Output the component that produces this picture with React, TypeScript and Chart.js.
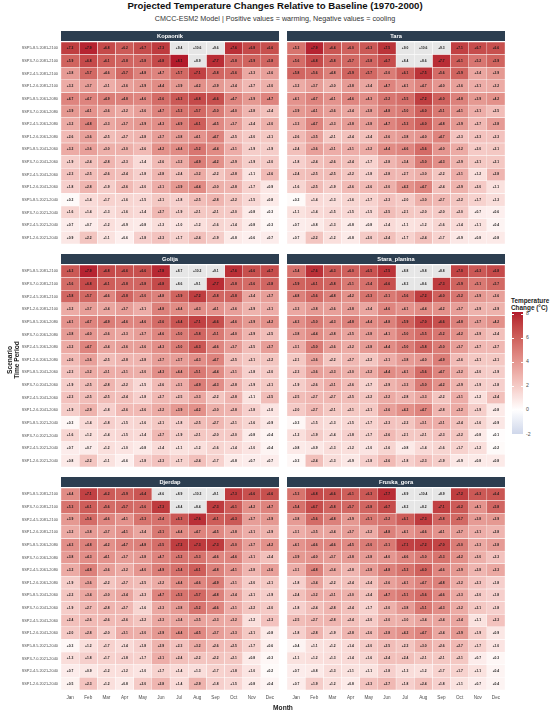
import React, { useEffect, useRef } from "react";
import { Chart, registerables } from "chart.js";

Chart.register(...registerables);

const FONT = "'Liberation Sans', Arial, Helvetica, sans-serif";

const months = ["Jan", "Feb", "Mar", "Apr", "May", "Jun", "Jul", "Aug", "Sep", "Oct", "Nov", "Dec"];

const rowLabels = [
  "SSP5-8.5.2081-2100",
  "SSP3-7.0.2081-2100",
  "SSP2-4.5.2081-2100",
  "SSP1-2.6.2081-2100",
  "SSP5-8.5.2061-2080",
  "SSP3-7.0.2061-2080",
  "SSP2-4.5.2061-2080",
  "SSP1-2.6.2061-2080",
  "SSP5-8.5.2041-2060",
  "SSP3-7.0.2041-2060",
  "SSP2-4.5.2041-2060",
  "SSP1-2.6.2041-2060",
  "SSP5-8.5.2021-2040",
  "SSP3-7.0.2021-2040",
  "SSP2-4.5.2021-2040",
  "SSP1-2.6.2021-2040",
];

const kopaonik = [
  [7.2, 7.9, 6.8, 6.2, 6.7, 7.3, 9.4, 10.6, 9.6, 7.6, 6.8, 6.6],
  [5.9, 6.8, 6.1, 5.8, 5.8, 6.8, 8.1, 8.9, 7.7, 5.8, 5.9, 5.8],
  [3.8, 5.7, 4.6, 5.7, 4.8, 4.7, 5.7, 7.1, 5.8, 5.6, 3.3, 3.6],
  [3.2, 3.7, 3.1, 3.6, 3.9, 4.4, 3.9, 4.2, 3.9, 3.4, 2.7, 3.0],
  [4.7, 4.7, 4.9, 4.8, 4.6, 5.6, 6.3, 6.8, 6.6, 4.7, 3.9, 4.7],
  [3.9, 4.1, 3.6, 3.2, 3.6, 4.7, 5.3, 5.7, 5.0, 4.0, 2.8, 2.4],
  [3.2, 4.8, 3.3, 3.7, 3.9, 4.3, 4.9, 6.1, 4.5, 3.7, 2.4, 3.0],
  [2.6, 3.6, 2.5, 2.7, 2.8, 3.7, 3.8, 4.1, 4.7, 2.5, 2.0, 2.1],
  [3.2, 3.6, 3.0, 3.0, 2.6, 4.2, 4.4, 5.2, 4.4, 3.1, 1.9, 1.9],
  [1.9, 2.4, 2.8, 2.3, 1.4, 2.6, 3.2, 4.9, 4.2, 2.9, 1.9, 2.0],
  [2.3, 2.5, 2.6, 2.4, 1.8, 2.8, 2.4, 3.2, 2.2, 2.8, 1.1, 2.6],
  [1.8, 2.8, 1.9, 2.6, 2.0, 3.1, 3.9, 4.4, 3.0, 2.8, 1.7, 0.9],
  [0.2, 1.4, 1.7, 1.6, 1.5, 2.1, 1.8, 2.5, 2.8, 2.2, 1.5, 0.8],
  [1.6, 1.4, 1.3, 1.6, 1.4, 2.7, 1.9, 2.1, 2.1, 2.0, 0.8, 0.3],
  [0.7, 0.7, 1.2, 0.9, 0.8, 1.3, 1.0, 1.2, 1.6, 1.4, 0.8, 0.3],
  [0.9, 2.2, 1.1, 0.6, 1.8, 2.3, 1.7, 2.4, 1.9, 0.8, 0.6, 0.7],
];

const tara = [
  [5.3, 7.9, 6.4, 6.0, 6.3, 7.5, 9.0, 10.6, 9.3, 7.1, 6.7, 6.6],
  [5.6, 6.8, 5.8, 5.7, 5.8, 6.7, 8.4, 8.6, 7.7, 6.1, 5.2, 5.9],
  [5.8, 5.6, 4.8, 5.9, 5.7, 5.0, 6.1, 7.5, 5.6, 5.9, 3.4, 3.9],
  [3.2, 3.7, 3.0, 3.8, 3.4, 4.7, 4.1, 4.7, 4.0, 3.6, 3.1, 3.2],
  [4.1, 4.7, 4.1, 4.6, 4.3, 5.2, 5.5, 7.2, 6.0, 4.8, 3.9, 4.2],
  [3.9, 4.1, 3.6, 3.4, 3.8, 4.8, 5.0, 6.0, 5.1, 4.1, 3.1, 2.5],
  [3.3, 4.7, 3.3, 3.8, 3.8, 4.7, 5.3, 6.0, 4.8, 3.9, 2.7, 3.8],
  [2.6, 3.5, 2.1, 2.4, 2.4, 3.6, 3.8, 4.0, 4.7, 2.3, 2.3, 2.3],
  [2.4, 3.6, 3.1, 3.1, 3.2, 4.4, 4.6, 5.6, 4.0, 3.2, 2.0, 2.1],
  [1.8, 2.4, 2.6, 2.4, 1.7, 2.8, 3.4, 5.0, 4.3, 2.9, 2.1, 2.1],
  [2.4, 2.5, 2.5, 2.2, 1.8, 2.8, 2.7, 3.0, 2.2, 3.1, 1.2, 2.8],
  [1.6, 2.5, 1.9, 2.6, 2.6, 3.0, 4.2, 4.7, 2.4, 2.9, 2.0, 1.1],
  [0.2, 1.4, 1.3, 1.6, 1.7, 2.3, 2.0, 3.0, 2.7, 2.2, 1.7, 1.3],
  [1.1, 1.4, 1.5, 1.5, 1.5, 2.5, 2.1, 2.0, 2.0, 2.0, 0.7, 0.6],
  [0.7, 0.8, 1.3, 0.8, 0.8, 1.4, 1.1, 1.2, 1.6, 1.4, 1.1, 0.4],
  [0.7, 2.2, 1.2, 0.8, 2.0, 2.4, 1.7, 2.4, 1.7, 0.9, 0.8, 0.8],
];

const golija = [
  [6.3, 7.9, 6.8, 6.6, 6.6, 7.8, 8.7, 10.2, 9.1, 7.6, 6.6, 6.7],
  [5.6, 6.8, 6.1, 5.8, 5.8, 6.8, 8.6, 9.1, 7.7, 5.8, 5.6, 5.8],
  [5.8, 5.7, 4.6, 5.8, 5.0, 4.8, 5.9, 7.2, 5.8, 5.8, 3.4, 3.7],
  [3.2, 3.7, 3.4, 3.7, 3.1, 4.8, 4.4, 4.3, 4.1, 3.6, 2.9, 3.1],
  [4.1, 4.7, 4.9, 4.6, 4.6, 5.6, 6.4, 7.1, 6.6, 4.6, 3.9, 4.2],
  [3.8, 4.0, 3.6, 3.3, 3.7, 4.6, 5.0, 5.8, 5.1, 4.0, 2.9, 2.5],
  [3.2, 4.7, 3.4, 3.6, 3.6, 4.3, 5.0, 6.3, 4.6, 3.7, 2.5, 3.7],
  [2.6, 3.6, 2.5, 2.8, 2.8, 3.7, 3.7, 4.3, 4.7, 2.5, 2.1, 2.2],
  [2.3, 3.2, 3.1, 3.1, 3.0, 4.3, 4.4, 5.1, 4.4, 3.1, 1.8, 2.0],
  [1.9, 2.5, 2.8, 2.2, 1.5, 2.6, 3.1, 4.9, 4.3, 2.8, 1.9, 2.1],
  [2.3, 2.5, 2.5, 2.4, 1.8, 2.7, 2.5, 3.3, 2.2, 2.8, 1.1, 2.5],
  [1.9, 2.9, 1.8, 2.6, 2.6, 3.2, 3.9, 4.2, 3.0, 2.8, 1.8, 1.0],
  [0.3, 1.4, 1.8, 1.5, 1.6, 2.1, 1.8, 2.5, 2.7, 2.1, 1.6, 0.9],
  [1.6, 1.2, 1.4, 1.5, 1.4, 2.7, 1.9, 2.1, 2.0, 2.0, 0.8, 0.4],
  [0.7, 0.7, 1.2, 1.0, 0.8, 1.4, 1.1, 1.2, 1.6, 1.4, 1.0, 0.4],
  [0.8, 2.2, 1.1, 0.6, 1.8, 2.3, 1.7, 2.4, 1.7, 0.8, 0.7, 0.7],
];

const staraPlanina = [
  [5.4, 7.6, 6.3, 6.0, 6.5, 7.5, 8.8, 9.8, 8.8, 7.0, 6.3, 6.8],
  [5.9, 6.1, 5.8, 5.1, 5.4, 6.6, 8.3, 8.6, 7.3, 5.9, 5.1, 5.7],
  [4.8, 5.6, 4.8, 4.2, 5.3, 5.1, 5.6, 7.2, 6.0, 5.2, 3.9, 3.6],
  [3.3, 3.8, 3.6, 3.8, 3.4, 4.6, 4.1, 4.4, 4.2, 3.7, 2.9, 2.9],
  [4.3, 5.0, 4.3, 4.8, 4.4, 4.8, 5.9, 7.0, 6.6, 4.8, 3.7, 4.2],
  [3.8, 4.4, 3.8, 3.5, 3.8, 4.1, 5.0, 5.5, 5.2, 4.2, 2.9, 2.4],
  [3.1, 5.0, 3.6, 3.2, 3.8, 4.4, 5.0, 5.8, 5.0, 3.7, 2.7, 2.7],
  [2.1, 3.6, 2.2, 2.7, 2.2, 3.1, 3.8, 4.0, 4.9, 2.6, 2.1, 2.1],
  [2.3, 3.6, 3.3, 3.0, 3.2, 4.4, 4.1, 5.6, 4.7, 3.2, 2.0, 1.9],
  [1.9, 2.6, 3.1, 2.6, 1.7, 2.9, 3.3, 5.0, 4.2, 2.9, 1.9, 1.8],
  [2.5, 2.7, 2.7, 2.5, 2.2, 3.2, 2.8, 3.3, 2.2, 3.1, 1.2, 2.4],
  [2.0, 2.7, 2.1, 2.1, 2.1, 3.6, 4.2, 4.7, 2.8, 3.2, 1.9, 0.8],
  [0.3, 1.5, 1.3, 1.5, 1.7, 2.3, 2.2, 3.1, 3.1, 2.4, 1.6, 0.9],
  [1.2, 1.9, 1.4, 1.8, 1.7, 2.6, 2.1, 2.1, 2.3, 2.2, 0.8, 0.1],
  [0.8, 0.9, 1.3, 1.2, 1.0, 1.6, 0.8, 1.4, 1.6, 1.7, 1.2, 0.2],
  [0.3, 2.4, 1.3, 0.9, 1.8, 2.6, 1.8, 2.3, 1.9, 0.9, 0.8, 0.8],
];

const djerdap = [
  [4.4, 7.1, 6.2, 5.9, 6.4, 8.6, 8.9, 10.3, 9.1, 7.3, 6.6, 6.6],
  [5.3, 6.1, 5.6, 5.7, 5.6, 7.3, 8.4, 8.4, 7.3, 6.1, 4.2, 4.7],
  [3.9, 5.6, 4.6, 4.1, 5.3, 5.4, 6.3, 7.6, 6.1, 6.3, 3.7, 3.9],
  [3.2, 3.8, 3.7, 4.1, 3.4, 5.1, 4.4, 4.7, 4.5, 3.8, 3.1, 2.9],
  [4.3, 4.8, 4.2, 4.7, 4.8, 5.5, 7.2, 7.3, 7.3, 5.0, 3.7, 4.2],
  [3.8, 4.3, 4.1, 3.7, 3.8, 4.7, 5.2, 5.3, 4.6, 4.6, 3.1, 2.4],
  [3.2, 4.8, 3.6, 3.2, 4.0, 4.9, 5.4, 6.1, 4.8, 4.1, 2.8, 3.6],
  [1.9, 3.6, 2.2, 2.7, 2.5, 3.2, 4.4, 4.6, 4.9, 3.1, 2.0, 2.1],
  [2.2, 3.4, 3.0, 3.4, 2.3, 4.7, 5.3, 5.7, 4.8, 3.4, 2.1, 1.9],
  [1.9, 2.7, 2.8, 2.7, 1.6, 3.3, 3.8, 5.2, 4.6, 3.1, 2.2, 2.0],
  [2.4, 2.6, 2.6, 2.6, 2.2, 3.3, 3.4, 3.5, 3.3, 3.2, 1.2, 2.3],
  [2.0, 2.8, 2.0, 3.1, 3.0, 3.9, 4.4, 4.5, 3.7, 3.3, 2.1, 0.8],
  [0.3, 1.2, 1.7, 1.4, 1.8, 2.9, 2.3, 3.2, 2.6, 2.5, 1.7, 0.6],
  [1.3, 1.8, 1.7, 1.8, 1.7, 3.1, 2.4, 2.2, 2.2, 2.1, 0.8, 0.3],
  [0.7, 0.9, 1.2, 1.2, 1.0, 1.7, 1.4, 1.3, 1.7, 1.8, 1.0, 0.2],
  [0.5, 2.3, 1.2, 0.8, 2.0, 2.8, 1.4, 2.9, 1.8, 1.5, 0.8, 0.4],
];

const fruskaGora = [
  [5.3, 6.8, 6.6, 6.1, 6.3, 7.7, 8.9, 10.4, 8.9, 7.2, 6.3, 6.4],
  [5.4, 6.7, 5.8, 5.7, 5.8, 6.7, 8.2, 8.2, 7.1, 6.2, 4.1, 5.8],
  [3.8, 5.6, 4.8, 3.9, 5.1, 5.2, 6.1, 7.3, 5.8, 5.7, 3.8, 3.9],
  [3.1, 3.5, 3.4, 3.7, 3.2, 4.8, 4.1, 4.6, 4.1, 3.7, 3.1, 2.8],
  [4.1, 4.6, 4.6, 4.5, 5.0, 5.1, 7.1, 7.2, 7.0, 5.0, 3.3, 3.8],
  [3.9, 4.0, 3.7, 3.8, 3.8, 4.0, 4.6, 5.0, 5.3, 4.2, 3.0, 2.3],
  [3.1, 4.8, 3.4, 2.8, 3.8, 4.8, 5.3, 6.0, 4.6, 3.9, 2.8, 3.3],
  [1.8, 3.4, 2.2, 2.4, 2.4, 3.6, 4.1, 4.7, 4.8, 3.2, 2.3, 1.8],
  [2.4, 3.2, 3.1, 3.0, 2.4, 4.7, 5.1, 5.6, 4.6, 3.3, 2.0, 1.8],
  [1.8, 2.4, 2.8, 2.4, 1.7, 3.0, 3.8, 5.1, 4.3, 3.2, 2.1, 1.8],
  [2.5, 2.7, 2.8, 2.4, 2.0, 3.0, 3.0, 3.4, 3.4, 3.4, 1.1, 2.3],
  [1.8, 2.8, 1.9, 2.8, 2.6, 3.8, 4.2, 4.7, 3.4, 3.9, 1.9, 0.9],
  [0.4, 1.1, 1.2, 1.4, 2.0, 2.5, 2.2, 3.0, 2.6, 2.7, 1.7, 1.0],
  [1.1, 1.2, 1.3, 1.4, 1.6, 2.4, 2.4, 2.1, 2.1, 2.1, 0.7, 0.3],
  [0.7, 0.8, 1.3, 1.1, 1.1, 1.8, 1.3, 1.2, 1.7, 1.7, 1.1, 0.4],
  [0.7, 1.9, 1.2, 0.8, 2.3, 2.7, 1.8, 2.4, 1.8, 1.1, 0.7, 0.4],
];

const legendTicks = [8, 6, 4, 2, 0, -2];

// colour scale (diverging, Lab interpolation, midpoint 0)
const LIM_LO = -2;
const LIM_HI = 8.15;
const LOW = [0x21, 0x66, 0xac];
const MID = [255, 255, 255];
const HIGH = [0xb2, 0x18, 0x2b];
const NA_COLOR = "#e6e6e6";

function lin(c: number) {
  c /= 255;
  return c <= 0.04045 ? c / 12.92 : Math.pow((c + 0.055) / 1.055, 2.4);
}
function gam(c: number) {
  const v = c <= 0.0031308 ? 12.92 * c : 1.055 * Math.pow(c, 1 / 2.4) - 0.055;
  return Math.round(Math.min(1, Math.max(0, v)) * 255);
}
const Xn = 0.95047, Yn = 1, Zn = 1.08883;
function fl(t: number) {
  return t > 0.008856 ? Math.cbrt(t) : 7.787 * t + 16 / 116;
}
function finv(t: number) {
  return t > 0.206893 ? t * t * t : (t - 16 / 116) / 7.787;
}
function toLab(rgb: number[]) {
  const R = lin(rgb[0]), G = lin(rgb[1]), B = lin(rgb[2]);
  const X = R * 0.4124 + G * 0.3576 + B * 0.1805;
  const Y = R * 0.2126 + G * 0.7152 + B * 0.0722;
  const Z = R * 0.0193 + G * 0.1192 + B * 0.9505;
  const fx = fl(X / Xn), fy = fl(Y / Yn), fz = fl(Z / Zn);
  return [116 * fy - 16, 500 * (fx - fy), 200 * (fy - fz)];
}
function fromLab(lab: number[]) {
  const fy = (lab[0] + 16) / 116;
  const fx = fy + lab[1] / 500;
  const fz = fy - lab[2] / 200;
  const X = finv(fx) * Xn, Y = finv(fy) * Yn, Z = finv(fz) * Zn;
  const R = 3.2406 * X - 1.5372 * Y - 0.4986 * Z;
  const G = -0.9689 * X + 1.8758 * Y + 0.0415 * Z;
  const B = 0.0557 * X - 0.204 * Y + 1.057 * Z;
  return [gam(R), gam(G), gam(B)];
}
function mixLab(a: number[], b: number[], t: number) {
  const la = toLab(a), lb = toLab(b);
  const m = [0, 1, 2].map((i) => la[i] + (lb[i] - la[i]) * t);
  const c = fromLab(m);
  return `rgb(${c[0]},${c[1]},${c[2]})`;
}
function fillFor(v: number) {
  if (v > LIM_HI || v < LIM_LO) return NA_COLOR;
  const r = v / (2 * Math.max(Math.abs(LIM_LO), Math.abs(LIM_HI))) + 0.5;
  if (r >= 0.5) return mixLab(MID, HIGH, (r - 0.5) * 2);
  return mixLab(LOW, MID, r * 2);
}
function fmt(v: number) {
  return (v >= 0 ? "+" : "") + v.toFixed(1);
}

type PanelProps = {
  site: string;
  values: number[][];
  showY: boolean;
  showX: boolean;
  left: number;
  top: number;
  width: number;
  height: number;
};

function Panel({ site, values, showY, showX, left, top, width, height }: PanelProps) {
  const ref = useRef<HTMLCanvasElement | null>(null);
  useEffect(() => {
    if (!ref.current) return;
    const stripPlugin = {
      id: "strip",
      beforeDraw(chart: any) {
        const { left: l, right: r, top: t } = chart.chartArea;
        const ctx = chart.ctx;
        ctx.save();
        ctx.fillStyle = "#2c3e50";
        ctx.fillRect(l, t - 11, r - l, 10);
        ctx.fillStyle = "#ffffff";
        ctx.font = `bold 5.7px ${FONT}`;
        ctx.textAlign = "center";
        ctx.textBaseline = "middle";
        ctx.fillText(site, (l + r) / 2, t - 6);
        ctx.restore();
      },
    };
    const labelPlugin = {
      id: "cellLabels",
      afterDatasetsDraw(chart: any) {
        const ctx = chart.ctx;
        ctx.save();
        ctx.font = `bold 3.3px ${FONT}`;
        ctx.fillStyle = "#1a1a1a";
        ctx.textAlign = "center";
        ctx.textBaseline = "middle";
        chart.data.datasets.forEach((_ds: any, mi: number) => {
          const meta = chart.getDatasetMeta(mi);
          meta.data.forEach((el: any, ri: number) => {
            const p = el.getCenterPoint();
            ctx.fillText(fmt(values[ri][mi]), p.x, p.y);
          });
        });
        ctx.restore();
      },
    };
    const zeroPad = (s: any) => {
      s.paddingTop = 0;
      s.paddingBottom = 0;
      s.paddingLeft = 0;
      s.paddingRight = 0;
    };
    const xScale: any = {
      type: "linear",
      min: 0,
      max: 12,
      display: showX,
      grid: { display: false, drawTicks: false },
      border: { display: false },
      afterBuildTicks: (ax: any) => {
        ax.ticks = months.map((_, i) => ({ value: i + 0.5 }));
      },
      afterFit: (s: any) => {
        zeroPad(s);
        if (showX) s.height = 22;
      },
      ticks: {
        autoSkip: false,
        maxRotation: 0,
        padding: 5,
        color: "#4d4d4d",
        font: { size: 4.6, family: FONT },
        callback: (v: any) => months[Math.floor(Number(v))],
      },
    };
    const yScale: any = {
      type: "category",
      display: showY,
      offset: true,
      grid: { display: false, drawTicks: false },
      border: { display: false },
      afterFit: (s: any) => {
        zeroPad(s);
        if (showY) s.width = 61;
      },
      ticks: {
        autoSkip: false,
        padding: 3,
        color: "#4d4d4d",
        font: { size: 3.9, family: FONT },
      },
    };
    const chart = new Chart(ref.current, {
      type: "bar",
      data: {
        labels: rowLabels,
        datasets: months.map((m, mi) => ({
          label: m,
          data: values.map(() => [mi, mi + 1]),
          backgroundColor: values.map((row) => fillFor(row[mi])),
          borderColor: "#ffffff",
          borderWidth: 0.5,
          borderSkipped: false,
          grouped: false,
          barPercentage: 1,
          categoryPercentage: 1,
        })),
      } as any,
      options: {
        indexAxis: "y",
        responsive: false,
        animation: false,
        events: [],
        layout: { autoPadding: false, padding: { top: 12, right: 1, left: 0, bottom: 0 } },
        plugins: {
          legend: { display: false },
          tooltip: { enabled: false },
        },
        scales: { x: xScale, y: yScale },
      } as any,
      plugins: [stripPlugin, labelPlugin],
    });
    return () => chart.destroy();
  }, [site, values, showX, showY]);
  return (
    <canvas
      ref={ref}
      width={width}
      height={height}
      style={{ position: "absolute", left, top, width, height }}
    />
  );
}

function Legend() {
  const barTop = 312;
  const barH = 122;
  const stops: string[] = [];
  const n = 40;
  for (let i = 0; i <= n; i++) {
    const v = LIM_HI - ((LIM_HI - LIM_LO) * i) / n;
    stops.push(`${fillFor(Math.min(v, LIM_HI))} ${((i / n) * 100).toFixed(2)}%`);
  }
  const yFor = (v: number) => barTop + ((LIM_HI - v) / (LIM_HI - LIM_LO)) * barH;
  return (
    <>
      <div
        style={{
          position: "absolute",
          left: 511,
          top: 297,
          fontSize: 6.4,
          fontWeight: "bold",
          lineHeight: "7px",
          color: "#222",
          whiteSpace: "nowrap",
        }}
      >
        Temperature
        <br />
        Change (°C)
      </div>
      <div
        style={{
          position: "absolute",
          left: 512,
          top: barTop,
          width: 11,
          height: barH,
          background: `linear-gradient(to bottom, ${stops.join(", ")})`,
        }}
      />
      {legendTicks.map((t) => (
        <React.Fragment key={t}>
          <div
            style={{
              position: "absolute",
              left: 512,
              top: yFor(t) - 0.25,
              width: 2,
              height: 0.5,
              background: "#fff",
            }}
          />
          <div
            style={{
              position: "absolute",
              left: 521,
              top: yFor(t) - 0.25,
              width: 2,
              height: 0.5,
              background: "#fff",
            }}
          />
          <div
            style={{
              position: "absolute",
              left: 526,
              top: yFor(t) - 3.5,
              fontSize: 5.2,
              lineHeight: "7px",
              color: "#4d4d4d",
            }}
          >
            {t}
          </div>
        </React.Fragment>
      ))}
    </>
  );
}

export default function App() {
  const panels = [
    { site: "Kopaonik", values: kopaonik, left: 0, top: 30, col: 0, row: 0 },
    { site: "Tara", values: tara, left: 287, top: 30, col: 1, row: 0 },
    { site: "Golija", values: golija, left: 0, top: 253, col: 0, row: 1 },
    { site: "Stara_planina", values: staraPlanina, left: 287, top: 253, col: 1, row: 1 },
    { site: "Djerdap", values: djerdap, left: 0, top: 476, col: 0, row: 2 },
    { site: "Fruska_gora", values: fruskaGora, left: 287, top: 476, col: 1, row: 2 },
  ];
  return (
    <div
      style={{
        position: "absolute",
        left: 0,
        top: 0,
        width: 550,
        height: 714,
        background: "#ffffff",
        fontFamily: FONT,
        overflow: "hidden",
      }}
    >
      <div
        style={{
          position: "absolute",
          left: 0,
          top: 0,
          width: 550,
          textAlign: "center",
          fontSize: 9.6,
          fontWeight: "bold",
          lineHeight: "12px",
          color: "#111",
        }}
      >
        Projected Temperature Changes Relative to Baseline (1970-2000)
      </div>
      <div
        style={{
          position: "absolute",
          left: 0,
          top: 15,
          width: 550,
          textAlign: "center",
          fontSize: 7.2,
          lineHeight: "8px",
          color: "#333",
        }}
      >
        CMCC-ESM2 Model | Positive values = warming, Negative values = cooling
      </div>
      {panels.map((p) => (
        <Panel
          key={p.site}
          site={p.site}
          values={p.values}
          showY={p.col === 0}
          showX={p.row === 2}
          left={p.left}
          top={p.top}
          width={p.col === 0 ? 280 : 219}
          height={p.row === 2 ? 236 : 214}
        />
      ))}
      <div
        style={{
          position: "absolute",
          left: 14 - 100,
          top: 360 - 8,
          width: 200,
          height: 16,
          transform: "rotate(-90deg)",
          textAlign: "center",
          fontSize: 6.6,
          fontWeight: "bold",
          lineHeight: "7px",
          color: "#222",
        }}
      >
        Scenario
        <br />
        Time Period
      </div>
      <div
        style={{
          position: "absolute",
          left: 183,
          top: 704,
          width: 200,
          textAlign: "center",
          fontSize: 6.6,
          fontWeight: "bold",
          lineHeight: "8px",
          color: "#222",
        }}
      >
        Month
      </div>
      <Legend />
    </div>
  );
}
